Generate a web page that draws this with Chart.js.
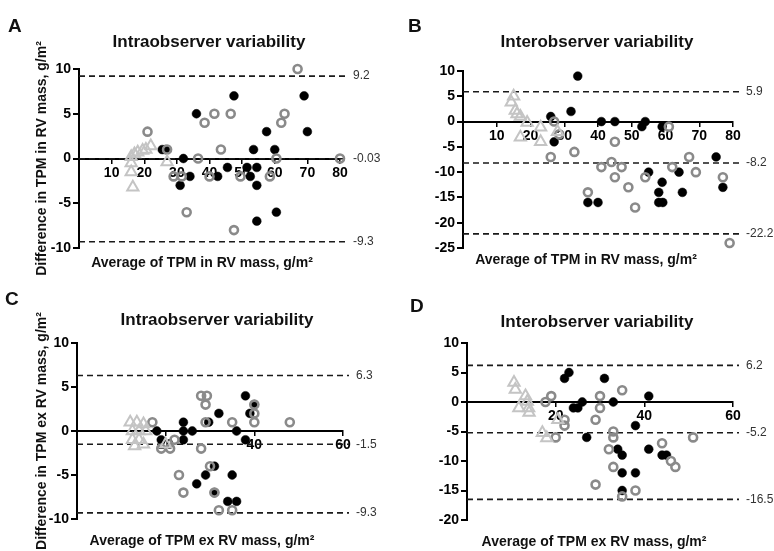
<!DOCTYPE html>
<html>
<head>
<meta charset="utf-8">
<title>TPM variability</title>
<script src="https://cdn.jsdelivr.net/npm/chart.js@4/dist/chart.umd.min.js"></script>
<style>
  body { margin: 0; background: #fff; }
  #wrap { position: relative; width: 774px; height: 551px; overflow: hidden; background: #fff; }
  #wrap canvas { position: absolute; }
</style>
</head>
<body>
<div id="wrap">
  <canvas id="chartA" width="387" height="282" style="left:0;top:0"></canvas>
  <canvas id="chartB" width="387" height="282" style="left:387px;top:0"></canvas>
  <canvas id="chartC" width="387" height="276" style="left:0;top:275px"></canvas>
  <canvas id="chartD" width="387" height="276" style="left:387px;top:275px"></canvas>
</div>
<script>
const FONT = "'Liberation Sans', Arial, sans-serif";

// A: intraobserver, TPM in RV mass  [average, difference]
const intraInFilled = [[25.5,1],[26.5,1],[32,0],[31,-3],[34,-2],[36,5],[42.5,-2],[45.5,-1],[47.5,7],[51.5,-1],
  [52.5,-2],[53.5,1],[54.5,-1],[54.5,-3],[54.5,-7],[57.5,3],[60,1],[60.5,-6],[69,7],[70,3]];
const intraInOpen = [[21,3],[27,1],[29,-2],[31.5,-2],[33,-6],[36.5,0],[38.5,4],[41.5,5],[40,-2],[43.5,1],
  [46.5,5],[47.5,-8],[49.5,-2],[58.5,-2],[60.5,0],[62,4],[63,5],[67,10],[80,0]];
const intraInTri = [[16,0.2],[17,0.5],[18,0.7],[19.5,0.9],[20.5,1],[22,1.4],[16,-0.5],[16,-1.5],[16.5,-3.2],[27,-0.4]];
const intraInLimits = [9.2, -0.03, -9.3];

// B: interobserver, TPM in RV mass
const interInFilled = [[34,9],[26,1],[27,-4],[32,2],[41,0],[45,0],[53,-1],[54,0],[59,-1],[37,-16],
  [40,-16],[55,-10],[59,-12],[58,-14],[58,-16],[59.2,-16],[64,-10],[65,-14],[75,-7],[77,-13]];
const interInOpen = [[27,0],[28.5,-2.5],[26,-7],[33,-6],[37,-14],[41,-9],[44,-8],[47,-9],[45,-4],[45,-11],
  [49,-13],[51,-17],[54,-11],[61,-1],[62,-9],[67,-7],[69,-10],[77,-11],[79,-24]];
const interInTri = [[15,5],[14.3,3.8],[15.5,2.2],[16,1.5],[17,1],[19,-0.2],[17,-3.1],[23,-1.1],[23,-4],[28,-2]];
const interInLimits = [5.9, -8.2, -22.2];

// C: intraobserver, TPM ex RV mass
const intraExFilled = [[18,0],[19,-1],[24,1],[24,0],[24,-1],[26,0],[29.7,1],[32,2],[36,0],[38,4],
  [38,-1],[39,2],[40,3],[27,-6],[29,-5],[31,-4],[31,-7],[35,-5],[34,-8],[36,-8]];
const intraExOpen = [[17,1],[19,-2],[21,-2],[22,-1],[28,4],[29.3,4],[29,3],[29,1],[30,-4],[28,-2],
  [23,-5],[24,-7],[31,-7],[32,-9],[35,-9],[35,1],[40,3],[40,2],[40,1],[48,1]];
const intraExTri = [[12,1],[13.5,1],[15,0.8],[12.5,0],[14,0],[15.5,0],[12.5,-1],[14,-1],[15,-1.5],[13,-1.7],[20,-1.5]];
const intraExLimits = [6.3, -1.5, -9.3];

// D: interobserver, TPM ex RV mass
const interExFilled = [[22,4],[23,5],[31,4],[24,-1],[25,-1],[26,0],[33,0],[41,1],[27,-6],[38,-4],
  [34,-8],[35,-9],[35,-12],[38,-12],[35,-15],[41,-8],[44,-9],[45,-9]];
const interExOpen = [[17.7,0],[19,1],[22,-3],[22,-4],[20,-6],[29,-3],[30,1],[30,-1],[35,2],[33,-5],
  [33,-6],[32,-8],[33,-11],[29,-14],[35,-16],[38,-15],[44,-7],[46,-10],[47,-11],[51,-6]];
const interExTri = [[10.6,3.3],[10.9,2.1],[13.2,1],[13.6,0.1],[11.7,-1],[13.9,-1],[14,-1.8],[17,-5.2],[18,-6.1],[20.5,-3]];
const interExLimits = [6.2, -5.2, -16.5];

const toPoints = arr => arr.map(([x, y]) => ({ x, y }));

// dashed bias / limits of agreement, value written past the right end
const limitLines = {
  id: 'limitLines',
  beforeDatasetsDraw(chart, args, opts) {
    const { ctx, chartArea, scales } = chart;
    ctx.save();
    ctx.strokeStyle = '#1a1a1a';
    ctx.lineWidth = 1.6;
    ctx.setLineDash([6, 4]);
    opts.values.forEach(v => {
      const y = scales.y.getPixelForValue(v);
      ctx.beginPath();
      ctx.moveTo(chartArea.left, y);
      ctx.lineTo(chartArea.right + 6, y);
      ctx.stroke();
    });
    ctx.setLineDash([]);
    ctx.fillStyle = '#333';
    ctx.font = '12px ' + FONT;
    ctx.textBaseline = 'middle';
    ctx.textAlign = 'left';
    opts.values.forEach(v => {
      ctx.fillText(String(v), chartArea.right + 13, scales.y.getPixelForValue(v));
    });
    ctx.restore();
  }
};

// panel letter, heading and x axis caption
const panelText = {
  id: 'panelText',
  afterDraw(chart, args, o) {
    const ctx = chart.ctx;
    ctx.save();
    ctx.fillStyle = '#111';
    ctx.textBaseline = 'alphabetic';
    ctx.textAlign = 'left';
    ctx.font = 'bold 19px ' + FONT;
    ctx.fillText(o.letter, o.letterPos[0], o.letterPos[1]);
    ctx.textAlign = 'center';
    ctx.font = 'bold 17px ' + FONT;
    ctx.fillText(o.title, o.titlePos[0], o.titlePos[1]);
    ctx.font = 'bold 14px ' + FONT;
    ctx.fillText(o.xTitle, o.xTitlePos[0], o.xTitlePos[1]);
    ctx.restore();
  }
};

function makePanel(canvasId, p) {
  const canvas = document.getElementById(canvasId);
  const W = canvas.width, H = canvas.height;
  const tickFont = { family: FONT, size: 14, weight: 'bold' };
  return new Chart(canvas, {
    type: 'scatter',
    data: {
      datasets: [
        { data: toPoints(p.tri), pointStyle: 'triangle', pointRadius: 6.5, borderWidth: 2,
          borderColor: '#c4c4c4', backgroundColor: 'rgba(255,255,255,0)', clip: false },
        { data: toPoints(p.open), pointRadius: 4, borderWidth: 2.6,
          borderColor: '#8a8a8a', backgroundColor: 'rgba(255,255,255,0)', clip: false },
        { data: toPoints(p.filled), pointRadius: 4.4, borderWidth: 0.5,
          borderColor: '#000', backgroundColor: '#000', clip: false }
      ]
    },
    options: {
      responsive: false,
      animation: false,
      events: [],
      layout: { padding: { left: 0, top: p.area.top, right: W - p.area.right, bottom: H - p.area.bottom } },
      plugins: {
        legend: { display: false },
        tooltip: { enabled: false },
        limitLines: { values: p.limits },
        panelText: p.text
      },
      scales: {
        x: {
          type: 'linear',
          position: { y: 0 },
          min: 0, max: p.xMax,
          ticks: { stepSize: p.xStep, autoSkip: false, maxRotation: 0, padding: 2,
            color: '#000', font: tickFont, callback: v => (v === 0 ? '' : v) },
          grid: { drawOnChartArea: false, tickLength: 4, color: '#000', lineWidth: 1.5 },
          border: { color: '#000', width: 2 }
        },
        y: {
          type: 'linear',
          position: 'left',
          min: p.yMin, max: p.yMax,
          ticks: { stepSize: 5, autoSkip: false, padding: 2, color: '#000', font: tickFont },
          grid: { drawOnChartArea: false, tickLength: 6, color: '#000', lineWidth: 2 },
          border: { color: '#000', width: 2 },
          title: { display: !!p.yTitle, text: p.yTitle || '', color: '#111',
            font: { family: FONT, size: 14, weight: 'bold' }, padding: { top: 34, bottom: 0 } },
          afterFit: s => { s.width = p.area.left; }
        }
      }
    },
    plugins: [limitLines, panelText]
  });
}

makePanel('chartA', {
  filled: intraInFilled, open: intraInOpen, tri: intraInTri, limits: intraInLimits,
  xMax: 80, xStep: 10, yMin: -10, yMax: 10,
  area: { left: 79, top: 69, right: 340, bottom: 248 },
  yTitle: 'Difference in TPM in RV mass, g/m²',
  text: { letter: 'A', letterPos: [8, 32], title: 'Intraobserver variability', titlePos: [209, 47],
    xTitle: 'Average of TPM in RV mass, g/m²', xTitlePos: [202, 267] }
});

makePanel('chartB', {
  filled: interInFilled, open: interInOpen, tri: interInTri, limits: interInLimits,
  xMax: 80, xStep: 10, yMin: -25, yMax: 10,
  area: { left: 76, top: 71, right: 346, bottom: 248 },
  text: { letter: 'B', letterPos: [21, 32], title: 'Interobserver variability', titlePos: [210, 47],
    xTitle: 'Average of TPM in RV mass, g/m²', xTitlePos: [199, 264] }
});

makePanel('chartC', {
  filled: intraExFilled, open: intraExOpen, tri: intraExTri, limits: intraExLimits,
  xMax: 60, xStep: 20, yMin: -10, yMax: 10,
  area: { left: 77, top: 68, right: 343, bottom: 244 },
  yTitle: 'Difference in TPM ex RV mass, g/m²',
  text: { letter: 'C', letterPos: [5, 30], title: 'Intraobserver variability', titlePos: [217, 50],
    xTitle: 'Average of TPM ex RV mass, g/m²', xTitlePos: [202, 270] }
});

makePanel('chartD', {
  filled: interExFilled, open: interExOpen, tri: interExTri, limits: interExLimits,
  xMax: 60, xStep: 20, yMin: -20, yMax: 10,
  area: { left: 80, top: 68, right: 346, bottom: 245 },
  text: { letter: 'D', letterPos: [23, 37], title: 'Interobserver variability', titlePos: [210, 52],
    xTitle: 'Average of TPM ex RV mass, g/m²', xTitlePos: [207, 271] }
});
</script>
</body>
</html>
